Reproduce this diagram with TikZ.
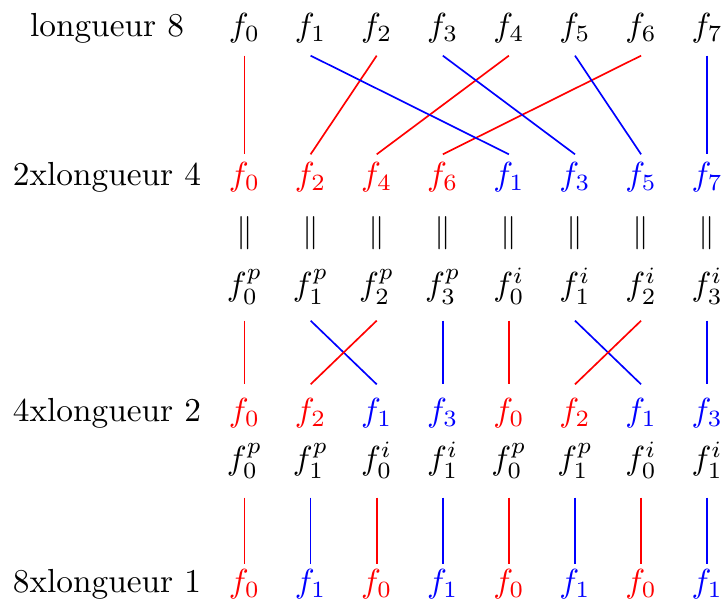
\documentclass[tikz,border=0pt]{standalone}
\begin{document}
\begin{tikzpicture}[x=0.3pt,y=-0.3pt,
  txt/.style={anchor=base,inner sep=0pt},
  rowa/.style={txt,text depth=5.4pt},
  rowb/.style={txt,text height=9.3pt},
  rowd/.style={txt,text depth=7.2pt},
  rowe/.style={txt,text height=11.1pt},
  rowf/.style={txt,text depth=8.1pt},
  rowg/.style={txt,text height=8.4pt},
  link/.style={line width=0.5pt}]
\useasboundingbox (0,0) rectangle (723,605);
% row labels
\node[txt] (l1) at (107,37) {longueur 8};
\node[txt] (l2) at (107,186) {2xlongueur 4};
\node[txt] (l4) at (107,422) {4xlongueur 2};
\node[txt] (l7) at (107,593) {8xlongueur 1};
% row 1
\foreach \i in {0,...,7}
  \node[rowa] (a\i) at ({244.5+66.1*\i},37) {$f_{\i}$};
% row 2
\foreach \i/\k/\c in {0/0/red,1/2/red,2/4/red,3/6/red,4/1/blue,5/3/blue,6/5/blue,7/7/blue}
  \node[rowb,text=\c] (b\i) at ({244.5+66.1*\i},186) {$f_{\k}$};
% row 3
\foreach \i in {0,...,7}
  \node[txt] (c\i) at ({244.5+66.1*\i},242) {$\|$};
% row 4
\foreach \i/\k/\s in {0/0/p,1/1/p,2/2/p,3/3/p,4/0/i,5/1/i,6/2/i,7/3/i}
  \node[rowd] (d\i) at ({244.5+66.1*\i},296) {$f_{\k}^{\s}$};
% row 5
\foreach \i/\k/\c in {0/0/red,1/2/red,2/1/blue,3/3/blue,4/0/red,5/2/red,6/1/blue,7/3/blue}
  \node[rowe,text=\c] (e\i) at ({244.5+66.1*\i},422) {$f_{\k}$};
% row 6
\foreach \i/\k/\s in {0/0/p,1/1/p,2/0/i,3/1/i,4/0/p,5/1/p,6/0/i,7/1/i}
  \node[rowf] (f\i) at ({244.5+66.1*\i},470) {$f_{\k}^{\s}$};
% row 7
\foreach \i/\k/\c in {0/0/red,1/1/blue,2/0/red,3/1/blue,4/0/red,5/1/blue,6/0/red,7/1/blue}
  \node[rowg,text=\c] (g\i) at ({244.5+66.1*\i},593) {$f_{\k}$};
% connectors row 1 -> row 2
\foreach \s/\t/\c in {0/0/red,2/1/red,4/2/red,6/3/red,1/4/blue,3/5/blue,5/6/blue,7/7/blue}
  \draw[link,draw=\c] (a\s.south) -- (b\t.north);
% connectors row 4 -> row 5
\foreach \s/\t/\c in {0/0/red,1/2/blue,2/1/red,3/3/blue,4/4/red,5/6/blue,6/5/red,7/7/blue}
  \draw[link,draw=\c] (d\s.south) -- (e\t.north);
% connectors row 6 -> row 7
\foreach \s/\c in {0/red,1/blue,2/red,3/blue,4/red,5/blue,6/red,7/blue}
  \draw[link,draw=\c] (f\s.south) -- (g\s.north);
\end{tikzpicture}
\end{document}
